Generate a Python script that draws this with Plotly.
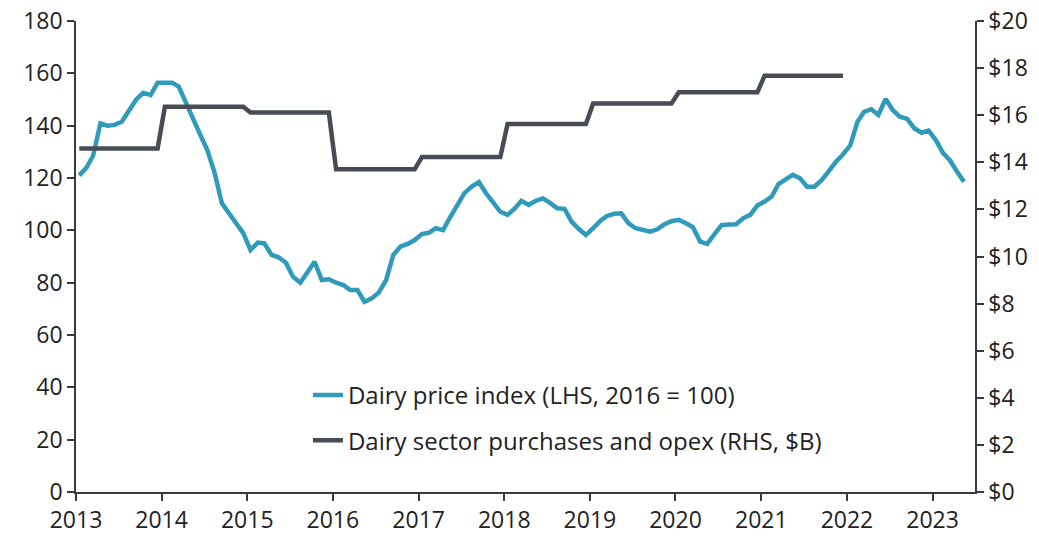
import pandas as pd
import plotly.graph_objects as go

# Dairy price index (LHS, 2016 = 100), monthly Jan 2013 - May 2023
dairy_price_index = [
    121, 124, 128.5, 140.9, 140, 140.3, 141.5, 146, 150, 152.6, 151.7, 156.4,   # 2013
    156.2, 156.4, 154.9, 148.5, 142, 136.5, 130.7, 122, 110.3, 106.5, 102.5, 98.9,  # 2014
    92.5, 95.3, 95, 90.6, 89.7, 87.6, 82.3, 80, 84, 88, 81, 81.3,  # 2015
    80, 79.1, 77.2, 77.2, 72.7, 74, 76.2, 81, 90.6, 93.8, 94.8, 96.3,  # 2016
    98.6, 99.1, 100.8, 100.1, 105, 109.5, 114.2, 116.7, 118.4, 114.2, 110.5, 107.1,  # 2017
    105.9, 108.4, 111.3, 109.7, 111.3, 112.2, 110.5, 108.4, 108.2, 103.3, 100.5, 98.2,  # 2018
    100.8, 103.7, 105.5, 106.3, 106.5, 102.7, 100.8, 100, 99.5, 100.4, 102.3, 103.5,  # 2019
    104, 102.7, 101.2, 95.7, 94.8, 98.5, 102, 102.2, 102.3, 104.6, 105.9, 109.5,  # 2020
    111, 113, 117.7, 119.5, 121.2, 119.9, 116.7, 116.7, 119.2, 122.5, 126.2, 129,  # 2021
    132.5, 141.5, 145.3, 146.3, 144.1, 150.2, 146, 143.4, 142.6, 139, 137.3, 138.1,  # 2022
    134.5, 129.5, 126.9, 122.5, 118.6,  # 2023
]

# Dairy sector purchases and opex (RHS, $B), annual
opex_years = [2013, 2014, 2015, 2016, 2017, 2018, 2019, 2020, 2021]
opex_values = [14.59, 16.36, 16.11, 13.70, 14.22, 15.63, 16.50, 16.97, 17.68]

year_ticks = list(range(2013, 2024))
left_ticks = list(range(0, 181, 20))
right_ticks = list(range(0, 21, 2))

price_dates = pd.date_range("2013-01-01", periods=len(dairy_price_index), freq="MS") + pd.Timedelta(days=14)
opex_dates = pd.date_range("2013-01-01", periods=12 * len(opex_years), freq="MS") + pd.Timedelta(days=14)
opex_monthly = [v for v in opex_values for _ in range(12)]

BLUE = "#2F9AB9"
GREY = "#474C55"
AXIS = "#3a3a3a"
TICKFONT = dict(family="Open Sans", size=23, color="#222222")
LEGFONT = dict(family="Open Sans", size=24, color="#222222")

fig = go.Figure()
fig.add_trace(go.Scatter(
    x=price_dates, y=dairy_price_index, mode="lines",
    name="Dairy price index (LHS, 2016 = 100)",
    line=dict(color=BLUE, width=4.5), legendgroup="a", yaxis="y",
))
fig.add_trace(go.Scatter(
    x=opex_dates, y=opex_monthly, mode="lines",
    name="Dairy sector purchases and opex (RHS, $B)",
    line=dict(color=GREY, width=4.5), legendgroup="b", yaxis="y2",
))

axis_common = dict(
    showgrid=False, zeroline=False, automargin=False,
    ticklabeloverflow="allow",
    showline=True, linecolor=AXIS, linewidth=1.5,
    ticks="outside", ticklen=7, tickwidth=1.5, tickcolor=AXIS,
    tickfont=TICKFONT,
)

# The page adds an 8px body margin, so the figure is sized to fit inside the window.
fig.update_layout(
    width=1031, height=529,
    margin=dict(l=68, r=64, t=13, b=45),
    paper_bgcolor="white", plot_bgcolor="white",
    font=TICKFONT,
    showlegend=True,
    legend=dict(
        x=0.258, y=0.253, xanchor="left", yanchor="top",
        bgcolor="rgba(0,0,0,0)", font=LEGFONT,
        traceorder="grouped", tracegroupgap=11,
    ),
    xaxis=dict(
        type="date",
        range=["2013-01-01", "2023-07-01"],
        tickvals=[f"{y}-01-01" for y in year_ticks],
        ticktext=[str(y) for y in year_ticks],
        **axis_common,
    ),
    yaxis=dict(
        range=[0, 180],
        tickvals=left_ticks,
        **axis_common,
    ),
    yaxis2=dict(
        range=[0, 20], overlaying="y", side="right",
        tickvals=right_ticks,
        ticktext=[f"${v}" for v in right_ticks],
        **axis_common,
    ),
)

fig.write_html("out.html")
